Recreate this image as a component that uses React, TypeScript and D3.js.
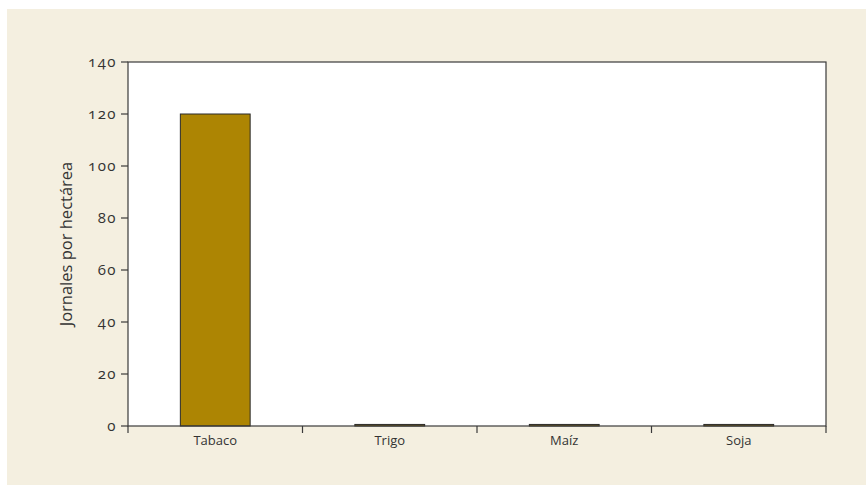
import React from "react";
import * as d3 from "d3";

const categories = ["Tabaco", "Trigo", "Maíz", "Soja"];
const values = [120, 0.6, 0.6, 0.6];
const yTicks = [0, 20, 40, 60, 80, 100, 120, 140];
const yLabel = "Jornales por hectárea";

export default function App() {
  const W = 866, H = 485;
  const m = { left: 128, right: 826, top: 62, bottom: 426 };
  const x = d3.scaleBand<string>().domain(categories).range([m.left, m.right]).paddingInner(0).paddingOuter(0);
  const y = d3.scaleLinear().domain([0, 140]).range([m.bottom, m.top]);
  const bw = x.bandwidth() * 0.4;
  const font = "'Open Sans', sans-serif";
  const textColor = "#333";
  const boundaries = [0, 1, 2, 3, 4].map((i) => m.left + i * x.step());
  return (
    <svg width={W} height={H} style={{ position: "absolute", left: 0, top: 0 }}>
      <rect x={7} y={9} width={W} height={H} fill="#f4efe0" />
      <rect x={m.left} y={m.top} width={m.right - m.left} height={m.bottom - m.top} fill="#fff" />
      {categories.map((c, i) => (
        <rect
          key={c}
          x={(x(c) as number) + (x.bandwidth() - bw) / 2}
          y={y(values[i])}
          width={bw}
          height={y(0) - y(values[i])}
          fill="#ad8503"
          stroke="#2a2a2a"
          strokeWidth={1}
        />
      ))}
      <rect x={m.left} y={m.top} width={m.right - m.left} height={m.bottom - m.top} fill="none" stroke="#3a3a3a" strokeWidth={1.2} />
      {yTicks.map((t) => (
        <g key={t}>
          <line x1={m.left - 7} x2={m.left} y1={y(t)} y2={y(t)} stroke="#3a3a3a" strokeWidth={1.2} />
          <text
            x={m.left - 11}
            y={y(t)}
            dy="0.35em"
            textAnchor="end"
            fontFamily={font}
            fontSize={15}
            letterSpacing={1.5}
            fill={textColor}
            style={{ fontVariantNumeric: "oldstyle-nums" }}
          >
            {t}
          </text>
        </g>
      ))}
      {boundaries.map((b, i) => (
        <line key={i} x1={b} x2={b} y1={m.bottom} y2={m.bottom + 7} stroke="#3a3a3a" strokeWidth={1.2} />
      ))}
      {categories.map((c) => (
        <text
          key={c}
          x={(x(c) as number) + x.bandwidth() / 2}
          y={m.bottom + 19}
          textAnchor="middle"
          fontFamily={font}
          fontSize={13}
          fill={textColor}
        >
          {c}
        </text>
      ))}
      <text
        transform={`translate(72,${(m.top + m.bottom) / 2}) rotate(-90)`}
        textAnchor="middle"
        fontFamily={font}
        fontSize={16.5}
        fill={textColor}
      >
        {yLabel}
      </text>
    </svg>
  );
}
